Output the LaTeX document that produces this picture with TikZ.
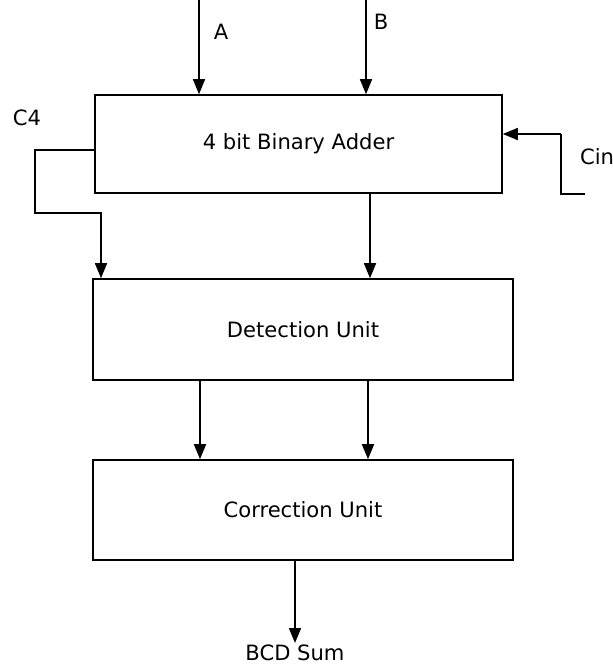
\documentclass[tikz,border=0pt]{standalone}
\usepackage{fontspec}
\setmainfont{DejaVu Sans}
\usepackage{tikz}
\usetikzlibrary{calc,positioning,arrows.meta}

\begin{document}
\begin{tikzpicture}[
  font=\large,
  blk/.style={draw=black, line width=0.9pt, align=center, inner sep=0pt},
  e/.style={-{Triangle[length=3mm, width=2.4mm]}, draw=black, line width=0.9pt},
  w/.style={draw=black, line width=0.9pt},
  lb/.style={inner sep=1pt}
]
\useasboundingbox (0,0) rectangle (12.24,-13.4);

% blocks
\node[blk, minimum width=8.14cm, minimum height=1.96cm] (add) at (5.97,-2.88) {4 bit Binary Adder};
\node[blk, minimum width=8.4cm, minimum height=2.02cm] (det) at (6.06,-6.59) {Detection Unit};
\node[blk, minimum width=8.4cm, minimum height=2.0cm] (cor) at (6.06,-10.2) {Correction Unit};

% inputs
\coordinate (ina) at (3.98,0);
\coordinate (inb) at (7.32,0);
\node[lb] (la) at (4.42,-0.64) {A};
\node[lb] (lb) at (7.62,-0.44) {B};
\draw[e] (ina) -- (ina |- add.north);
\draw[e] (inb) -- (inb |- add.north);

% carry out
\coordinate (c4) at (0.7,-3.0);
\coordinate (c4b) at (2.02,-4.26);
\node[lb] (lc4) at (0.54,-2.36) {C4};
\draw[e] (c4 -| add.west) -- (c4) |- (c4b) -- (c4b |- det.north);

% carry in
\coordinate (cin) at (11.7,-3.88);
\coordinate (cinc) at (11.22,-2.68);
\node[lb] (lcin) at (11.94,-3.14) {Cin};
\draw[w] (cin) -- (cinc |- cin) -- (cinc);
\draw[e] (cinc) -- (cinc -| add.east);

% adder -> detection
\coordinate (s1) at (7.4,0);
\draw[e] (s1 |- add.south) -- (s1 |- det.north);

% detection -> correction
\coordinate (d1) at (4.0,0);
\coordinate (d2) at (7.36,0);
\draw[e] (d1 |- det.south) -- (d1 |- cor.north);
\draw[e] (d2 |- det.south) -- (d2 |- cor.north);

% output
\node[lb, anchor=north] (sum) at (5.9,-12.86) {BCD Sum};
\draw[e] (sum |- cor.south) -- (sum.north);
\end{tikzpicture}
\end{document}
